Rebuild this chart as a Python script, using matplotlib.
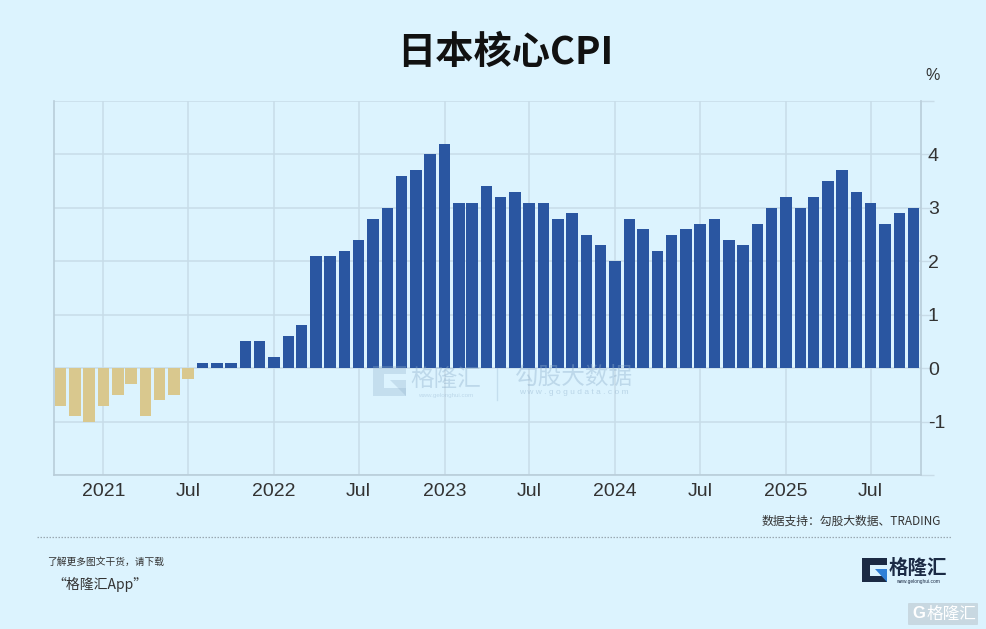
import matplotlib
matplotlib.use("Agg")
import matplotlib.pyplot as plt
import matplotlib.patches as mpatches
import pandas as pd

# ---------------- data ----------------
start_month = "2020-10-01"
cpi_2020 = [-0.7, -0.9, -1.0]
cpi_2021 = [-0.7, -0.5, -0.3, -0.9, -0.6, -0.5, -0.2, 0.1, 0.1, 0.1, 0.5, 0.5]
cpi_2022 = [0.2, 0.6, 0.8, 2.1, 2.1, 2.2, 2.4, 2.8, 3.0, 3.6, 3.7, 4.0]
cpi_2023 = [4.2, 3.1, 3.1, 3.4, 3.2, 3.3, 3.1, 3.1, 2.8, 2.9, 2.5, 2.3]
cpi_2024 = [2.0, 2.8, 2.6, 2.2, 2.5, 2.6, 2.7, 2.8, 2.4, 2.3, 2.7, 3.0]
cpi_2025 = [3.2, 3.0, 3.2, 3.5, 3.7, 3.3, 3.1, 2.7, 2.9, 3.0]
values = cpi_2020 + cpi_2021 + cpi_2022 + cpi_2023 + cpi_2024 + cpi_2025
months = pd.date_range(start_month, periods=len(values), freq="MS")

tick_dates = ["2021-01-01", "2021-07-01", "2022-01-01", "2022-07-01", "2023-01-01",
              "2023-07-01", "2024-01-01", "2024-07-01", "2025-01-01", "2025-07-01"]
tick_labels = ["2021", "Jul", "2022", "Jul", "2023", "Jul", "2024", "Jul", "2025", "Jul"]
y_ticks = [-2, -1, 0, 1, 2, 3, 4, 5]
y_tick_labels = ["", "-1", "0", "1", "2", "3", "4", ""]

title = "日本核心CPI"
unit = "%"
source = "数据支持：勾股大数据、TRADING"
promo1 = "了解更多图文干货，请下载"
promo2 = "“格隆汇App”"

# ---------------- style ----------------
BG = "#dcf3fe"
BLUE = "#2a56a1"
TAN = "#d9c88e"
GRID = "#c8dce8"
SPINE = "#b9cdd9"
TXT = "#333333"
W, H = 986, 629
CJK = ["Noto Sans CJK SC", "DejaVu Sans"]
LAT = ["Liberation Sans", "DejaVu Sans"]

fig = plt.figure(figsize=(W / 100, H / 100), dpi=100, facecolor=BG)

def fx(px):
    return px / W

def fy(py):
    return 1 - py / H

ax = fig.add_axes([fx(53.5), fy(475), fx(921) - fx(53.5), fy(101) - fy(475)])
ax.set_facecolor(BG)

colors = [TAN if v < 0 else BLUE for v in values]
ax.bar(months, values, width=24, color=colors, zorder=3, align="center")

ax.set_ylim(-2, 5)
ax.set_xlim(pd.Timestamp("2020-09-16"), pd.Timestamp("2025-10-17"))
ax.set_yticks(y_ticks)
ax.set_yticklabels(y_tick_labels, family=LAT, fontsize=14, color=TXT)
ax.yaxis.tick_right()
ax.tick_params(axis="y", length=9, width=1, color=GRID, pad=-4)
ax.set_xticks([pd.Timestamp(d) for d in tick_dates])
ax.set_xticklabels(tick_labels, family=LAT, fontsize=14, color=TXT)
ax.tick_params(axis="x", length=0, pad=6)
ax.grid(True, color=GRID, linewidth=1.1, zorder=0)
ax.spines["top"].set_visible(False)
for s in ["left", "right", "bottom"]:
    ax.spines[s].set_color(SPINE)
    ax.spines[s].set_linewidth(1.2)

# ---------------- overlay (decorations) ----------------
ov = fig.add_axes([0, 0, 1, 1], facecolor="none")
ov.set_xlim(0, W)
ov.set_ylim(H, 0)
ov.axis("off")

ov.text(505, 52, title, family=CJK, fontsize=27.5, fontweight="bold",
        ha="center", va="center", color="#111111")
ov.text(933, 75, unit, family=LAT, fontsize=11.5, ha="center", va="center", color=TXT)

ov.text(941, 521, source, family=CJK, fontsize=8.5, ha="right", va="center", color=TXT)
ov.plot([37, 951], [537, 537], linestyle=(0, (1.2, 1.2)), color="#9aa8b2", linewidth=0.9)

ov.text(47, 562, promo1, family=CJK, fontsize=7, ha="left", va="center", color=TXT,
        style="italic")
ov.text(52, 584, promo2, family=CJK, fontsize=10, ha="left", va="center", color=TXT,
        style="italic")


def g_logo(x0, y0, w, h, navy, blue, bgc, alpha=1.0, z=5):
    ov.add_patch(mpatches.Rectangle((x0, y0), w, h, color=navy, alpha=alpha, zorder=z, lw=0))
    ov.add_patch(mpatches.Rectangle((x0 + w * 0.32, y0 + h * 0.28), w * 0.68 + 0.5,
                                    h * 0.46, color=bgc, zorder=z + 1, lw=0))
    ov.add_patch(mpatches.Polygon([(x0 + w * 0.5, y0 + h * 0.45), (x0 + w, y0 + h * 0.45),
                                   (x0 + w, y0 + h)], closed=True, color=blue,
                                  alpha=alpha, zorder=z + 2, lw=0))


# bottom-right brand logo
g_logo(862, 558, 25, 24, "#1b2a44", "#2f7fd6", BG)
ov.text(918, 568, "格隆汇", family=CJK, fontsize=14, fontweight="bold",
        ha="center", va="center", color="#1b2a44")
ov.text(918, 581, "www.gelonghui.com", family=LAT, fontsize=3.5,
        ha="center", va="center", color="#1b2a44")

# corner watermark
ov.add_patch(mpatches.FancyBboxPatch((909, 604), 68, 20, boxstyle="round,pad=1",
                                     color="#b8c3ca", alpha=0.55, lw=0, zorder=4))
ov.text(919, 614, "G", family=LAT, fontsize=12, fontweight="bold",
        ha="center", va="center", color="white", zorder=5)
ov.text(951, 614, "格隆汇", family=CJK, fontsize=12, ha="center", va="center",
        color="white", zorder=5)

# central watermark
wm = "#8fb0cc"
g_logo(373, 366, 33, 30, wm, wm, BG, alpha=0.3, z=6)
ov.text(446, 379, "格隆汇", family=CJK, fontsize=17, ha="center", va="center",
        color=wm, alpha=0.4, zorder=6)
ov.text(446, 395, "www.gelonghui.com", family=LAT, fontsize=4.5, ha="center",
        va="center", color=wm, alpha=0.4, zorder=6)
ov.plot([497, 497], [368, 400], color=wm, alpha=0.3, linewidth=1, zorder=6)
ov.text(573, 377, "勾股大数据", family=CJK, fontsize=17, ha="center", va="center",
        color=wm, alpha=0.4, zorder=6)
ov.text(574, 393, "w w w . g o g u d a t a . c o m", family=LAT, fontsize=6,
        ha="center", va="center", color=wm, alpha=0.45, zorder=6)

fig.savefig("out.png", dpi=100, facecolor=BG)
